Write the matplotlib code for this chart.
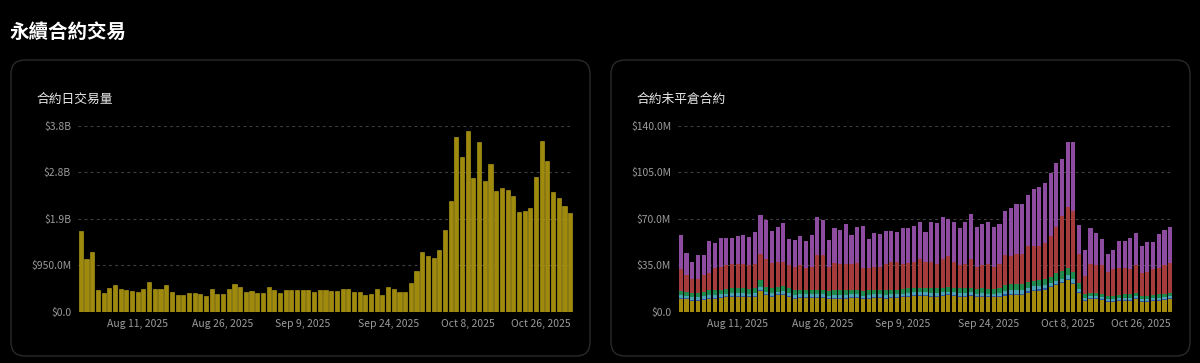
import matplotlib
matplotlib.use('Agg')
import numpy as np
import pandas as pd
import matplotlib.pyplot as plt
from matplotlib.patches import FancyBboxPatch

plt.rcParams['font.family'] = ['Noto Sans CJK TC', 'DejaVu Sans']

# daily bars, Aug 1 .. Oct 26 2025
dates = pd.date_range('2025-08-01', '2025-10-26', freq='D')

# daily contract volume, billions USD
volume = [1.65, 1.08, 1.23, 0.45, 0.38, 0.49, 0.55, 0.47, 0.44, 0.43,
          0.40, 0.46, 0.61, 0.47, 0.46, 0.55, 0.40, 0.35, 0.34, 0.38,
          0.38, 0.36, 0.32, 0.46, 0.36, 0.37, 0.48, 0.57, 0.52, 0.41,
          0.42, 0.38, 0.39, 0.52, 0.44, 0.39, 0.44, 0.44, 0.44, 0.44,
          0.45, 0.41, 0.45, 0.45, 0.43, 0.43, 0.48, 0.48, 0.41, 0.41,
          0.34, 0.36, 0.48, 0.35, 0.52, 0.47, 0.41, 0.41, 0.60, 0.83,
          1.23, 1.15, 1.10, 1.27, 1.68, 2.27, 3.57, 3.16, 3.70, 2.73,
          3.48, 2.68, 3.02, 2.47, 2.54, 2.49, 2.36, 2.04, 2.06, 2.12,
          2.76, 3.49, 3.08, 2.45, 2.32, 2.17, 2.03]

# open interest stack, millions USD (bottom -> top)
oi_yellow = [10, 9.5, 8.5, 8.5, 9, 10, 10, 10.5, 11, 11.5,
             11.5, 11.5, 11, 11.5, 16, 12.5, 11.5, 12.5, 13, 11.5,
             10, 10.5, 10.5, 10.5, 10.5, 10.5, 9.5, 10, 10, 10,
             10.5, 10.5, 9.5, 10, 10.5, 10.5, 10, 10.5, 10.5, 11,
             11.5, 12, 12, 12, 11.5, 11.5, 12, 12.5, 12, 11.5,
             11.5, 12, 11, 11.5, 11, 11, 11.5, 12, 12.5, 12.5,
             12.5, 14.5, 15.5, 16, 16.5, 18.5, 20, 21.5, 24, 21,
             14, 8.5, 9.5, 9.5, 9, 7.5, 7.5, 8, 8.5, 8.5,
             9.5, 7.5, 7.5, 8, 8.5, 9, 9.5]
oi_blue = [0.8] * 57 + [1.2] * 13 + [1.0] + [0.8] * 16
oi_cyan = [2.0] * 57 + [2.5] * 13 + [2.0] + [1.5] * 16
oi_green = ([3.0] * 5 + [3.5] * 9 + [5.0] + [3.5] * 42
            + [4.5] * 9 + [5.5] * 4 + [5.0] + [2.5] * 16)
oi_red = [16.2, 12.7, 10.7, 10.7, 13.2, 12.7, 16.7, 17.2, 17.7, 18.2,
          18.2, 18.2, 17.7, 18.2, 20.2, 21.2, 19.2, 19.2, 18.7, 17.2,
          17.7, 18.2, 16.2, 17.2, 26.2, 26.2, 18.2, 20.7, 19.7, 19.7,
          19.2, 20.2, 17.2, 16.7, 17.2, 17.2, 19.7, 21.2, 21.2, 18.7,
          19.2, 19.7, 21.7, 19.7, 20.2, 18.2, 21.7, 23.2, 19.7, 17.2,
          18.2, 21.7, 16.7, 17.2, 18.7, 16.7, 18.2, 22.8, 21.3, 23.3,
          23.3, 27.3, 26.3, 25.8, 27.3, 30.3, 34.8, 41.3, 45.8, 45.8,
          22.0, 13.7, 21.7, 20.7, 21.2, 17.7, 19.7, 20.2, 19.7, 18.7,
          20.7, 16.7, 17.7, 19.2, 19.7, 21.2, 22.7]
oi_purple = [26.0, 16.6, 12.9, 18.1, 15.1, 24.4, 18.7, 21.5, 20.5, 19.9,
             21.2, 21.7, 21.7, 24.2, 28.8, 29.0, 24.0, 25.7, 29.0, 20.2,
             20.0, 22.5, 20.4, 24.2, 28.7, 26.2, 20.5, 26.5, 26.0, 30.0,
             21.7, 26.7, 31.7, 21.8, 25.5, 24.6, 25.2, 23.0, 22.5, 27.0,
             26.0, 26.7, 28.0, 22.5, 30.0, 30.8, 31.3, 28.0, 30.0, 28.0,
             31.7, 33.8, 29.7, 31.2, 31.5, 29.7, 30.2, 33.3, 36.0, 37.3,
             37.3, 38.1, 42.3, 43.8, 44.8, 47.9, 48.4, 43.2, 49.2, 52.2,
             21.5, 19.7, 27.0, 24.2, 19.9, 13.7, 14.7, 20.7, 20.7, 23.5,
             24.7, 20.7, 22.9, 20.9, 25.7, 26.7, 26.7]

tick_dates = ['2025-08-11', '2025-08-26', '2025-09-09', '2025-09-24', '2025-10-08', '2025-10-26']
tick_labels = ['Aug 11, 2025', 'Aug 26, 2025', 'Sep 9, 2025', 'Sep 24, 2025', 'Oct 8, 2025', 'Oct 26, 2025']

vol_ticks = [0, 0.95, 1.9, 2.85, 3.8]
vol_tick_labels = ['$0.0', '$950.0M', '$1.9B', '$2.8B', '$3.8B']
oi_ticks = [0, 35, 70, 105, 140]
oi_tick_labels = ['$0.0', '$35.0M', '$70.0M', '$105.0M', '$140.0M']

BG = '#000000'
GOLD = '#a08a0e'
colors = {'yellow': '#a38c0d', 'blue': '#2f57a3', 'cyan': '#4da3b4',
          'green': '#1f8a4b', 'red': '#a53b3b', 'purple': '#8e4ca0'}

fig = plt.figure(figsize=(12, 3.63), dpi=100, facecolor=BG)

fig.text(0.008, 0.912, '永續合約交易', color='white', fontsize=14, fontweight='bold', va='center')

# rounded panels (in inches), kept behind the axes
for x0 in (0.11, 6.11):
    panel = FancyBboxPatch((x0, 0.07), 5.79, 2.96, boxstyle='round,pad=0,rounding_size=0.14',
                           transform=fig.dpi_scale_trans, facecolor=BG,
                           edgecolor='#2a2a2a', linewidth=1.0, zorder=-5)
    fig.patches.append(panel)

fig.text(0.030, 0.727, '合約日交易量', color='#e8e8e8', fontsize=9.2, va='center')
fig.text(0.530, 0.727, '合約未平倉合約', color='#e8e8e8', fontsize=9.2, va='center')

x = np.arange(len(dates))
tick_pos = [dates.get_loc(pd.Timestamp(d)) for d in tick_dates]


def style_axes(ax, yticks, ylabels):
    ax.set_facecolor('none')
    for s in ax.spines.values():
        s.set_visible(False)
    ax.set_xlim(-0.5, len(dates) - 0.5)
    ax.set_ylim(0, yticks[-1])
    ax.set_yticks(yticks)
    ax.set_yticklabels(ylabels)
    ax.set_xticks(tick_pos)
    ax.set_xticklabels(tick_labels)
    # last date label sits flush with the right edge
    ax.get_xticklabels()[-1].set_ha('right')
    ax.tick_params(axis='both', length=0, colors='#9a9a9a', labelsize=7.5)
    ax.tick_params(axis='x', pad=5)
    ax.tick_params(axis='y', pad=5)
    ax.set_axisbelow(True)
    ax.grid(axis='y', color='#404040', linestyle=(0, (2.5, 3)), linewidth=0.8)


ax1 = fig.add_axes([0.065, 0.1405, 0.4125, 0.5124])
ax1.bar(x, volume, width=0.72, color=GOLD, edgecolor='#b9a11c', linewidth=0.4)
style_axes(ax1, vol_ticks, vol_tick_labels)

ax2 = fig.add_axes([0.565, 0.1405, 0.4125, 0.5124])
bottom = np.zeros(len(dates))
for name, vals in [('yellow', oi_yellow), ('blue', oi_blue), ('cyan', oi_cyan),
                   ('green', oi_green), ('red', oi_red), ('purple', oi_purple)]:
    ax2.bar(x, vals, bottom=bottom, width=0.72, color=colors[name], linewidth=0)
    bottom += np.array(vals)
style_axes(ax2, oi_ticks, oi_tick_labels)

plt.savefig('out.png', dpi=100, facecolor=BG)
